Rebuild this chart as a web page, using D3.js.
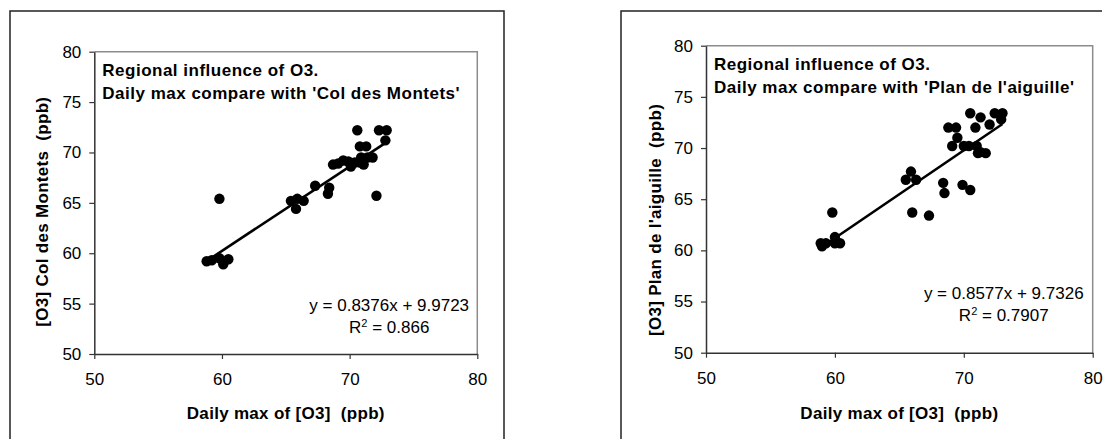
<!DOCTYPE html>
<html>
<head>
<meta charset="utf-8">
<script src="https://cdn.jsdelivr.net/npm/d3@7"></script>
<style>
  html, body { margin: 0; padding: 0; background: #fff; }
  svg { display: block; font-family: "Liberation Sans", Arial, sans-serif; }
  text { white-space: pre; }
</style>
</head>
<body>
<svg id="chart" width="1107" height="439"></svg>
<script>
// ---------- data ----------
const xTicks = [50, 60, 70, 80];
const yTicks = [50, 55, 60, 65, 70, 75, 80];

const montetsX = [58.8, 59.2, 59.8, 60.1, 60.5, 59.8, 65.4, 65.8, 65.9, 66.4, 67.3, 68.4, 68.3,
  68.7, 69.1, 69.5, 69.9, 70.1, 70.4, 70.8, 71.1, 70.9, 71.4, 71.8, 70.6, 70.8, 71.3, 72.3, 72.9, 72.8, 72.1];
const montetsY = [59.2, 59.3, 59.5, 58.9, 59.4, 65.4, 65.2, 64.4, 65.4, 65.2, 66.7, 66.5, 65.9,
  68.8, 68.9, 69.2, 69.1, 68.6, 69.0, 69.0, 68.8, 69.5, 69.5, 69.5, 72.2, 70.6, 70.6, 72.2, 72.2, 71.2, 65.7];

const aiguilleX = [58.9, 59.0, 59.3, 60.0, 60.0, 60.4, 59.8, 65.5, 65.9, 66.3, 66.0, 67.3, 68.4, 68.5,
  69.9, 70.5, 68.8, 69.4, 69.5, 69.1, 70.0, 70.4, 71.0, 71.3, 71.1, 71.7, 70.5, 71.3, 70.9, 72.0, 72.4, 73.0, 72.9];
const aiguilleY = [60.7, 60.4, 60.7, 61.3, 60.7, 60.7, 63.7, 66.9, 67.7, 66.9, 63.7, 63.4, 66.6, 65.6,
  66.4, 65.9, 72.0, 72.0, 71.0, 70.2, 70.2, 70.2, 70.2, 69.6, 69.5, 69.5, 73.4, 73.0, 72.0, 72.3, 73.4, 73.4, 72.8];

const trendSlope = [0.8376, 0.8577];
const trendIntercept = [9.9723, 9.7326];
const equationLabels = ["y = 0.8376x + 9.9723", "y = 0.8577x + 9.7326"];
const r2Values = ["0.866", "0.7907"];
const titleLine1 = ["Regional influence of O3.", "Regional influence of O3."];
const titleLine2 = ["Daily max compare with 'Col des Montets'", "Daily max compare with 'Plan de l'aiguille'"];
const yTitles = ["[O3] Col des Montets  (ppb)", "[O3] Plan de l'aiguille  (ppb)"];
const xTitle = "Daily max of [O3]  (ppb)";

// ---------- layout ----------
const panels = [
  { xs: montetsX, ys: montetsY, px: [94.3, 477.3], py: [354, 51.7],
    frame: "M10,470V11H504V470", yTitleX: 42, yTitleY: 211.7, xTitleY: 419, eqY: [311, 333] },
  { xs: aiguilleX, ys: aiguilleY, px: [706, 1092.7], py: [352.7, 45.7],
    frame: "M621,470V11H1102", yTitleX: 655, yTitleY: 220, xTitleY: 419, eqY: [299, 321] }
];

const svg = d3.select("#chart");

panels.forEach((p, i) => {
  const g = svg.append("g");
  const x = d3.scaleLinear().domain([50, 80]).range(p.px);
  const y = d3.scaleLinear().domain([50, 80]).range(p.py);

  // outer frame
  g.append("path").attr("d", p.frame).attr("fill", "none")
    .attr("stroke", "#222").attr("stroke-width", 1.5);

  // plot-area border (top & right gray)
  g.append("path")
    .attr("d", `M${x(50)},${y(80)}H${x(80)}V${y(50)}`)
    .attr("fill", "none").attr("stroke", "#8c8c8c").attr("stroke-width", 1.5);

  // axes
  const xa = g.append("g").attr("transform", `translate(0,${y(50)})`)
    .call(d3.axisBottom(x).tickValues(xTicks).tickSize(5).tickSizeOuter(0).tickPadding(14));
  const ya = g.append("g").attr("transform", `translate(${x(50)},0)`)
    .call(d3.axisLeft(y).tickValues(yTicks).tickSize(5).tickSizeOuter(0).tickPadding(8));
  [xa, ya].forEach(a => {
    a.select(".domain").attr("stroke", "#333").attr("stroke-width", 1.5);
    a.selectAll(".tick line").attr("stroke", "#333").attr("stroke-width", 1.2);
    a.selectAll(".tick text").attr("fill", "#000")
      .style("font-family", "'Liberation Sans', Arial, sans-serif").style("font-size", "17px");
  });

  // points
  const pts = p.xs.map((v, k) => [v, p.ys[k]]);
  g.append("g").selectAll("circle").data(pts).join("circle")
    .attr("cx", d => x(d[0])).attr("cy", d => y(d[1])).attr("r", 5.2).attr("fill", "#000");

  // trendline over data range
  const x0 = d3.min(p.xs), x1 = d3.max(p.xs);
  const f = v => trendSlope[i] * v + trendIntercept[i];
  g.append("line")
    .attr("x1", x(x0)).attr("y1", y(f(x0))).attr("x2", x(x1)).attr("y2", y(f(x1)))
    .attr("stroke", "#000").attr("stroke-width", 2.6);

  // chart titles
  const tx = x(50) + 8;
  g.append("text").attr("x", tx).attr("y", y(80) + 24)
    .attr("font-size", 17).attr("font-weight", "bold").attr("letter-spacing", 0.5)
    .text(titleLine1[i]);
  g.append("text").attr("x", tx).attr("y", y(80) + 47)
    .attr("font-size", 17).attr("font-weight", "bold").attr("letter-spacing", 0.5)
    .text(titleLine2[i]);

  // equation
  const ex = x(50) + 0.77 * (x(80) - x(50));
  g.append("text").attr("x", ex).attr("y", p.eqY[0]).attr("text-anchor", "middle")
    .attr("font-size", 17).text(equationLabels[i]);
  const r2 = g.append("text").attr("x", ex).attr("y", p.eqY[1]).attr("text-anchor", "middle")
    .attr("font-size", 17);
  r2.append("tspan").text("R");
  r2.append("tspan").attr("font-size", 11).attr("dy", -6).text("2");
  r2.append("tspan").attr("dy", 6).text(" = " + r2Values[i]);

  // axis titles
  g.append("text").attr("x", (x(50) + x(80)) / 2).attr("y", p.xTitleY)
    .attr("text-anchor", "middle").attr("font-size", 17).attr("font-weight", "bold")
    .attr("letter-spacing", 0.3).text(xTitle);
  g.append("text")
    .attr("transform", `translate(${p.yTitleX + 6},${p.yTitleY}) rotate(-90)`)
    .attr("text-anchor", "middle").attr("font-size", 17).attr("font-weight", "bold")
    .attr("letter-spacing", 0.3).text(yTitles[i]);
});
</script>
</body>
</html>
